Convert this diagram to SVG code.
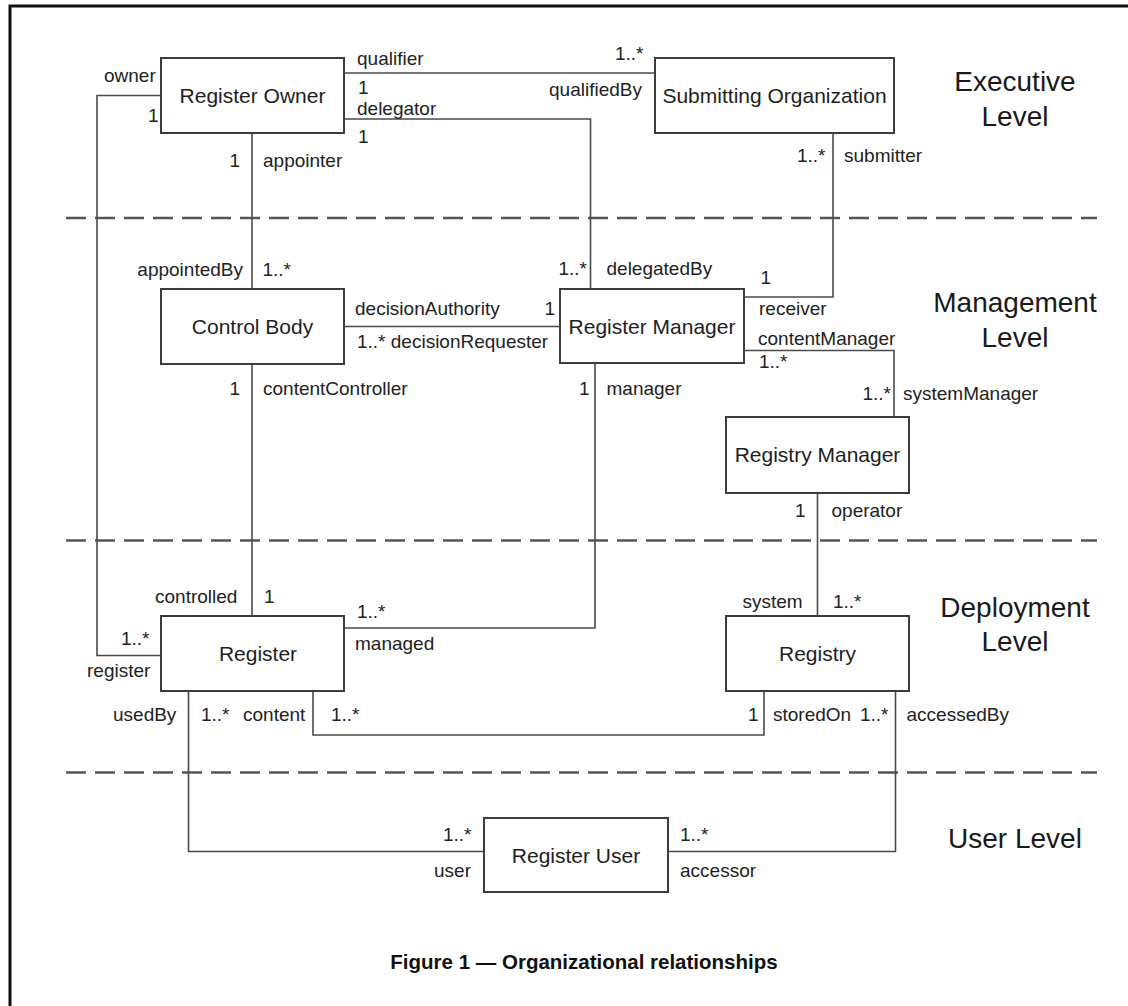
<svg xmlns="http://www.w3.org/2000/svg" width="1128" height="1006" viewBox="0 0 1128 1006">
<style>
.box{fill:#fff;stroke:#3c3c3c;stroke-width:2}
.con{fill:none;stroke:#4a4a4a;stroke-width:1.6}
.dash{fill:none;stroke:#555;stroke-width:2.6;stroke-dasharray:20 9}
.nt{font-family:"Liberation Sans",Arial,sans-serif;font-size:21px;fill:#1e1e1e;text-anchor:middle}
.lb{font-family:"Liberation Sans",Arial,sans-serif;font-size:19px;fill:#222}
.lv{font-family:"Liberation Sans",Arial,sans-serif;font-size:28px;fill:#1a1a1a;text-anchor:middle}
.cap{font-family:"Liberation Sans",Arial,sans-serif;font-size:20.5px;font-weight:bold;fill:#111;text-anchor:middle}
.e{text-anchor:end}
</style>
<rect width="1128" height="1006" fill="#fff"/>
<path d="M10,1006 V6 H1128" fill="none" stroke="#111" stroke-width="3"/>
<g id="levels">
<line class="dash" x1="66" y1="218" x2="1097" y2="218"/>
<line class="dash" x1="66" y1="540.5" x2="1097" y2="540.5"/>
<line class="dash" x1="66" y1="772.5" x2="1097" y2="772.5"/>
<text class="lv" x="1015" y="91">Executive</text>
<text class="lv" x="1015" y="126">Level</text>
<text class="lv" x="1015" y="312">Management</text>
<text class="lv" x="1015" y="347">Level</text>
<text class="lv" x="1015" y="617">Deployment</text>
<text class="lv" x="1015" y="651">Level</text>
<text class="lv" x="1015" y="848">User Level</text>
</g>
<g id="connectors">
<path class="con" d="M344,73 H655"/>
<path class="con" d="M344,119 H590.5 V289"/>
<path class="con" d="M252,133 V289"/>
<path class="con" d="M161,95.5 H97 V655.5 H161"/>
<path class="con" d="M833,133 V297 H744"/>
<path class="con" d="M344,326.5 H560"/>
<path class="con" d="M744,350.5 H894 V417"/>
<path class="con" d="M252,364 V616"/>
<path class="con" d="M595,363 V628 H344"/>
<path class="con" d="M817.5,493 V616"/>
<path class="con" d="M313,691 V735 H764 V691"/>
<path class="con" d="M188.5,691 V851.5 H484"/>
<path class="con" d="M895.5,691 V851.5 H668"/>
</g>
<g id="labels">
<text class="lb" x="104" y="82">owner</text>
<text class="lb" x="148" y="122">1</text>
<text class="lb" x="357" y="65">qualifier</text>
<text class="lb" x="358" y="94">1</text>
<text class="lb" x="357" y="115">delegator</text>
<text class="lb" x="358" y="143">1</text>
<text class="lb e" x="240" y="167">1</text>
<text class="lb" x="263" y="167">appointer</text>
<text class="lb" x="615" y="60">1..*</text>
<text class="lb" x="549" y="96">qualifiedBy</text>
<text class="lb" x="797" y="162">1..*</text>
<text class="lb" x="844" y="162">submitter</text>
<text class="lb e" x="243" y="276">appointedBy</text>
<text class="lb" x="262.5" y="276">1..*</text>
<text class="lb" x="558.5" y="275">1..*</text>
<text class="lb" x="606.5" y="275">delegatedBy</text>
<text class="lb" x="760.5" y="284">1</text>
<text class="lb" x="355" y="315">decisionAuthority</text>
<text class="lb" x="544.5" y="315">1</text>
<text class="lb" x="357" y="348">1..*  decisionRequester</text>
<text class="lb" x="759" y="315">receiver</text>
<text class="lb" x="758" y="345">contentManager</text>
<text class="lb" x="759" y="368">1..*</text>
<text class="lb e" x="240" y="395">1</text>
<text class="lb" x="263" y="395">contentController</text>
<text class="lb" x="579" y="395">1</text>
<text class="lb" x="606.5" y="395">manager</text>
<text class="lb" x="862.5" y="400">1..*</text>
<text class="lb" x="903" y="400">systemManager</text>
<text class="lb" x="795" y="517">1</text>
<text class="lb" x="831.5" y="517">operator</text>
<text class="lb" x="742.5" y="608">system</text>
<text class="lb" x="833" y="608">1..*</text>
<text class="lb" x="155" y="603">controlled</text>
<text class="lb" x="264" y="603">1</text>
<text class="lb" x="357" y="618">1..*</text>
<text class="lb" x="355" y="650">managed</text>
<text class="lb" x="121" y="645">1..*</text>
<text class="lb" x="87" y="677">register</text>
<text class="lb" x="113" y="721">usedBy</text>
<text class="lb" x="201" y="721">1..*</text>
<text class="lb" x="243" y="721">content</text>
<text class="lb" x="331" y="721">1..*</text>
<text class="lb" x="748" y="721">1</text>
<text class="lb" x="773" y="721">storedOn</text>
<text class="lb" x="860" y="721">1..*</text>
<text class="lb" x="906.5" y="721">accessedBy</text>
<text class="lb" x="443" y="841">1..*</text>
<text class="lb" x="434" y="877">user</text>
<text class="lb" x="680" y="841">1..*</text>
<text class="lb" x="680" y="877">accessor</text>
</g>
<g id="register-owner"><rect class="box" x="161" y="58" width="183" height="75"/><text class="nt" x="252.5" y="103">Register Owner</text></g>
<g id="submitting-organization"><rect class="box" x="655" y="58" width="239" height="75"/><text class="nt" x="774.5" y="103">Submitting Organization</text></g>
<g id="control-body"><rect class="box" x="161" y="289" width="183" height="75"/><text class="nt" x="252.5" y="334">Control Body</text></g>
<g id="register-manager"><rect class="box" x="560" y="289" width="184" height="74"/><text class="nt" x="652" y="334">Register Manager</text></g>
<g id="registry-manager"><rect class="box" x="726" y="417" width="183" height="76"/><text class="nt" x="817.5" y="462">Registry Manager</text></g>
<g id="register"><rect class="box" x="161" y="616" width="183" height="75"/><text class="nt" x="258" y="661">Register</text></g>
<g id="registry"><rect class="box" x="726" y="616" width="183" height="75"/><text class="nt" x="817.5" y="661">Registry</text></g>
<g id="register-user"><rect class="box" x="484" y="818" width="184" height="74"/><text class="nt" x="576" y="863">Register User</text></g>
<text class="cap" x="584" y="969">Figure 1 — Organizational relationships</text>
</svg>
